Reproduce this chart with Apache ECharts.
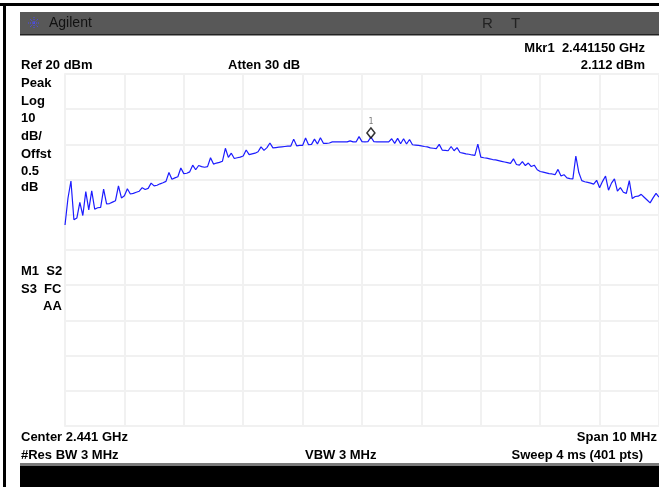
<!DOCTYPE html>
<html>
<head>
<meta charset="utf-8">
<script src="https://cdn.jsdelivr.net/npm/echarts@6/dist/echarts.min.js"></script>
<style>
  html, body { margin: 0; padding: 0; background: #fff; }
  #chart { width: 659px; height: 487px; }
</style>
</head>
<body>
<div id="chart"></div>
<script>
// sweep: 2.436 .. 2.446 GHz, read every other point of the 401
var startMHz = 2436;
var stepMHz = 0.05;
var levels = [
  -22.9, -15.3, -10.4, -21.4, -20.9, -16.5, -20.2, -13.4, -18.6, -13.2,
  -18.4, -18.0, -17.9, -12.7, -16.9, -16.8, -16.4, -16.0, -11.8, -15.2,
  -14.6, -12.6, -14.1, -13.9, -13.6, -13.3, -12.3, -12.8, -12.5, -11.0,
  -11.8, -11.6, -11.2, -10.9, -10.5, -8.0, -9.9, -9.5, -9.2, -6.7,
  -8.3, -8.2, -7.8, -5.9, -7.2, -6.0, -6.3, -6.5, -6.3, -3.8,
  -5.6, -5.3, -5.1, -4.8, -1.1, -3.7, -2.5, -4.0, -3.8, -3.6,
  -3.3, -1.6, -2.9, -2.7, -2.5, -2.1, -0.7, -1.7, -0.9, 0.4,
  -1.0, -0.9, -0.8, -0.7, -0.6, -0.5, -0.5, 1.5, -0.4, -0.3,
  -0.3, 1.8, -0.1, 0.0, 1.5, 0.1, 1.9, 0.3, 0.3, 0.4,
  0.7, 0.7, 0.7, 0.7, 0.7, 0.7, 1.0, 0.7, 0.7, 2.2,
  0.8, 0.7, 0.8, 2.1, 0.8, 0.7, 0.7, 0.7, 0.7, 0.7,
  1.6, 0.3, 1.7, 0.2, 1.6, 0.1, 1.4, -0.1, -0.2, -0.3,
  -0.4, -0.6, -0.7, -1.0, -1.1, -1.2, 0.0, -1.6, -1.7, -1.8,
  -0.6, -1.8, -0.9, -2.3, -2.5, -2.7, -2.8, -3.0, -3.1, 0.1,
  -3.6, -3.8, -3.9, -4.1, -4.3, -4.4, -4.6, -4.8, -5.0, -5.2,
  -5.4, -4.1, -5.7, -5.9, -4.9, -6.0, -5.3, -6.3, -5.9, -7.2,
  -7.7, -7.9, -8.1, -8.3, -8.4, -8.6, -7.1, -9.0, -8.6, -9.5,
  -9.7, -9.8, -3.3, -8.0, -10.3, -10.6, -10.8, -11.0, -11.3, -10.2,
  -12.3, -10.5, -9.0, -13.0, -11.0, -9.8, -13.3, -12.3, -13.6, -13.9,
  -10.3, -15.4, -14.8, -14.7, -14.2, -15.0, -15.8, -16.6, -15.2, -13.9, -15.0
];
var marker = [2441.15, 2.112];
var yTicks = { min: -80, max: 20, step: 10 };
var xTicks = { min: 2436, max: 2446, step: 1 };

var trace = levels.map(function (v, i) { return [startMHz + i * stepMHz, v]; });

var chart = echarts.init(document.getElementById('chart'), null, { renderer: 'canvas' });

var bold = 'bold 13px "Liberation Sans", Arial, sans-serif';
function txt(x, y, s, align) {
  return {
    type: 'text', z: 100,
    style: { x: x, y: y, text: s, font: bold, fill: '#000', textAlign: align || 'left', textVerticalAlign: 'middle' }
  };
}
function ray(x1, y1, x2, y2) {
  return { type: 'line', z: 101, shape: { x1: x1, y1: y1, x2: x2, y2: y2 },
    style: { stroke: '#4b4bff', lineWidth: 1, lineDash: [1, 1] } };
}

var gridColor = '#f1f1f1';

var option = {
  animation: false,
  backgroundColor: '#fff',
  grid: { left: 65, top: 74, width: 598, height: 352, containLabel: false },
  xAxis: {
    type: 'value', min: xTicks.min, max: xTicks.max, interval: xTicks.step,
    axisLabel: { show: false }, axisTick: { show: false },
    axisLine: { show: true, lineStyle: { color: gridColor, width: 2 } },
    splitLine: { show: true, lineStyle: { color: gridColor, width: 2 } }
  },
  yAxis: {
    type: 'value', min: yTicks.min, max: yTicks.max, interval: yTicks.step,
    axisLabel: { show: false }, axisTick: { show: false },
    axisLine: { show: true, lineStyle: { color: gridColor, width: 2 } },
    splitLine: { show: true, lineStyle: { color: gridColor, width: 2 } }
  },
  series: [
    {
      type: 'line', data: trace, showSymbol: false, symbol: 'none',
      lineStyle: { color: '#1c1cff', width: 1.2 }, z: 5
    },
    {
      type: 'scatter', data: [marker], symbol: 'diamond', symbolSize: [8, 10],
      symbolOffset: [0, -4],
      itemStyle: { color: '#fff', borderColor: '#000', borderWidth: 1.5 },
      label: { show: true, formatter: '1', position: 'top', distance: 1, fontSize: 8, color: '#555', fontFamily: 'DejaVu Sans Mono' },
      z: 10
    }
  ],
  graphic: [
    // frame
    { type: 'rect', z: 90, shape: { x: 0, y: 3, width: 659, height: 3 }, style: { fill: '#000' } },
    { type: 'rect', z: 90, shape: { x: 3, y: 3, width: 3, height: 484 }, style: { fill: '#000' } },
    // header bar
    { type: 'rect', z: 90, shape: { x: 20, y: 12, width: 639, height: 23 }, style: { fill: '#585858' } },
    { type: 'rect', z: 91, shape: { x: 20, y: 34, width: 639, height: 1.5 }, style: { fill: '#222' } },
    ray(34, 17, 34, 29), ray(28, 23, 40, 23), ray(30, 19, 38, 27), ray(30, 27, 38, 19),
    { type: 'text', z: 100, style: { x: 49, y: 23, text: 'Agilent', font: '14px "Liberation Sans", Arial, sans-serif', fill: '#111', textVerticalAlign: 'middle' } },
    { type: 'text', z: 100, style: { x: 482, y: 24, text: 'R', font: '15px "Liberation Sans", Arial, sans-serif', fill: '#222', textVerticalAlign: 'middle' } },
    { type: 'text', z: 100, style: { x: 511, y: 24, text: 'T', font: '15px "Liberation Sans", Arial, sans-serif', fill: '#222', textVerticalAlign: 'middle' } },
    // bottom bar
    { type: 'rect', z: 90, shape: { x: 20, y: 463, width: 639, height: 3 }, style: { fill: '#7a7a7a' } },
    { type: 'rect', z: 90, shape: { x: 20, y: 466, width: 639, height: 21 }, style: { fill: '#000' } },
    // annotations
    txt(645, 48, 'Mkr1  2.441150 GHz', 'right'),
    txt(645, 65, '2.112 dBm', 'right'),
    txt(21, 65, 'Ref 20 dBm'),
    txt(228, 65, 'Atten 30 dB'),
    txt(21, 83, 'Peak'),
    txt(21, 101, 'Log'),
    txt(21, 118, '10'),
    txt(21, 136, 'dB/'),
    txt(21, 154, 'Offst'),
    txt(21, 171, '0.5'),
    txt(21, 187, 'dB'),
    txt(21, 271, 'M1  S2'),
    txt(21, 289, 'S3  FC'),
    txt(43, 306, 'AA'),
    txt(21, 437, 'Center 2.441 GHz'),
    txt(657, 437, 'Span 10 MHz', 'right'),
    txt(21, 455, '#Res BW 3 MHz'),
    txt(305, 455, 'VBW 3 MHz'),
    txt(643, 455, 'Sweep 4 ms (401 pts)', 'right')
  ]
};
chart.setOption(option);
</script>
</body>
</html>
